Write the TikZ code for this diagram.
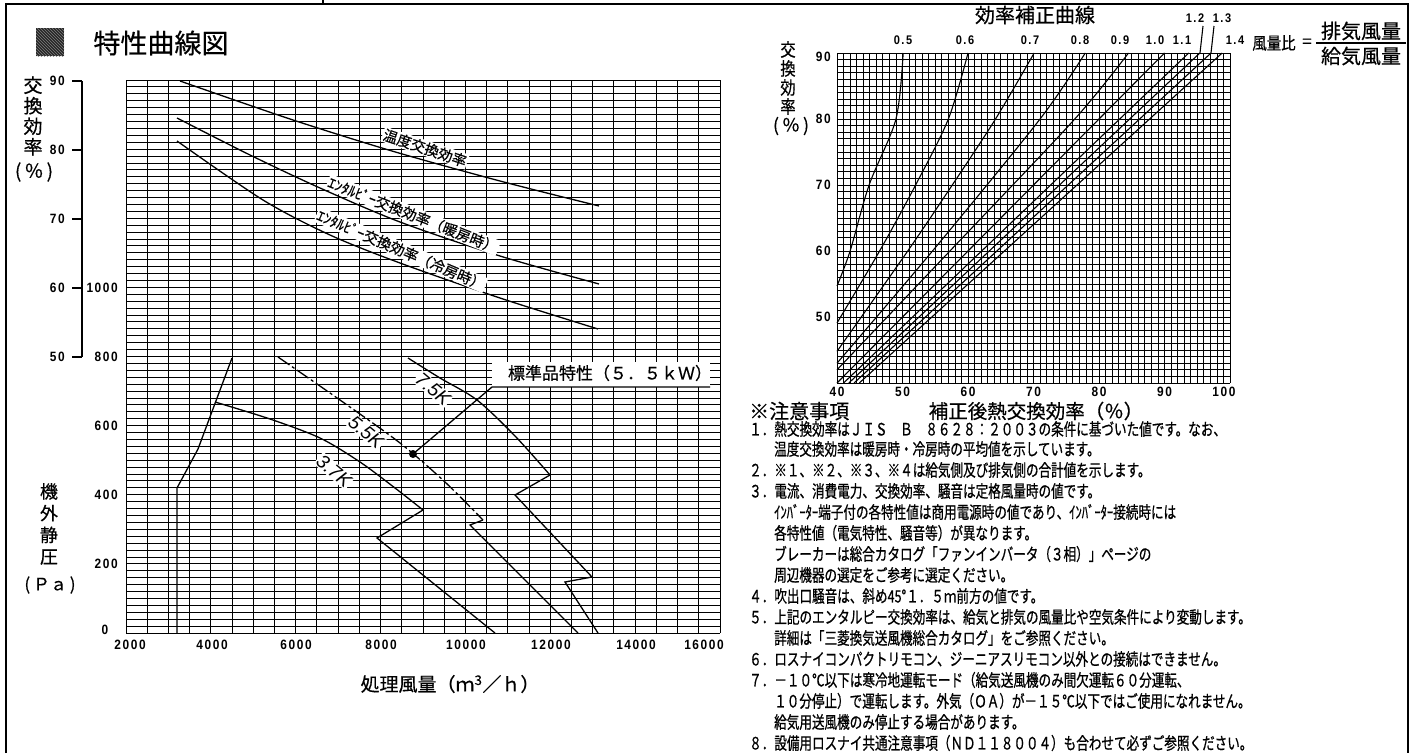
\documentclass[tikz,border=0pt]{standalone}
\usepackage{fontspec}
\setmainfont{Noto Sans CJK JP}
\newfontfamily\jp[FakeBold=0.5]{Noto Sans CJK JP}
\newfontfamily\jpc[FakeStretch=0.74,FakeBold=0.7]{Noto Sans CJK JP}
\newfontfamily\jpm[FakeStretch=0.85,FakeBold=0.5]{Noto Sans CJK JP}
\newfontfamily\numf[FakeStretch=0.88,LetterSpace=12]{Liberation Sans}
\newfontfamily\kfont{Liberation Sans}
\usetikzlibrary{patterns}
\begin{document}
\begin{tikzpicture}[x=1pt,y=-1pt,
  bord/.style={line width=2pt},
  gl/.style={line width=0.9pt},
  gr/.style={line width=0.8pt},
  axl/.style={line width=1.4pt},
  cv/.style={line width=1.3pt},
  cvr/.style={line width=1.1pt},
  dashcv/.style={line width=1.3pt, dash pattern=on 14pt off 3pt on 3pt off 3pt},
  num/.style={inner sep=0pt, font=\numf\bfseries\fontsize{13.5}{14}\selectfont},
  nums/.style={inner sep=0pt, font=\numf\bfseries\fontsize{12.5}{13}\selectfont},
  elbl/.style={fill=white, inner sep=1pt, font=\jp\fontsize{14.5}{15}\selectfont},
  klbl/.style={fill=white, inner sep=1pt, font=\kfont\itshape\fontsize{19}{19}\selectfont},
  note/.style={anchor=west, inner sep=0pt, font=\jpc\fontsize{17}{18}\selectfont},
]
\useasboundingbox (0,0) rectangle (1413,753);
\fill[white] (0,0) rectangle (1413,753);

% frame
\draw[bord] (6,753) -- (6,4) -- (1408,4) -- (1408,753);
\draw[bord] (323,0) -- (323,4);

% title
\node[fill=black!85, minimum size=28, inner sep=0, postaction={pattern=north west lines, pattern color=gray}] (icon) at (50,42) {};
\node[inner sep=0, font=\jp\fontsize{27}{28}\selectfont] (title) at (161,43) {特性曲線図};

% ---------------- left chart grid
\foreach \i in {0,...,28} \draw[gl] ({126+\i*21.2143},80) -- ({126+\i*21.2143},633);
\foreach \j in {0,...,80} \draw[gl] (126,{633-\j*6.9125}) -- (720,{633-\j*6.9125});

% efficiency axis
\draw[axl] (82,81) -- (82,357);
\foreach \yy in {81,150,219,288,357} \draw[axl] (72,\yy) -- (82,\yy);
\foreach \t/\yy in {90/81,80/150,70/219,60/288,50/357}
  \node[num, anchor=east] (e\t) at (65,\yy) {\t};
\foreach \t/\yy in {1000/288,800/357,600/426,400/495,200/564}
  \node[num, anchor=east] (p\t) at (118,\yy) {\t};
\node[num] (p0) at (105,630) {0};
\foreach \t/\xx in {2000/130,4000/212,6000/296,8000/381,10000/466,12000/551,14000/636,16000/704}
  \node[num] (x\t) at (\xx,645) {\t};

% axis titles
\node[inner sep=0, align=center, font=\jp\fontsize{19}{20.5}\selectfont] (ylab1) at (33,116) {交\\換\\効\\率};
\node[inner sep=0, font=\jp\fontsize{19}{20}\selectfont] (ylab1u) at (34,172) {(\,％\,)};
\node[inner sep=0, align=center, font=\jp\fontsize{18}{21.7}\selectfont] (ylab2) at (49,524) {機\\外\\静\\圧};
\node[inner sep=0, font=\jp\fontsize{17}{18}\selectfont] (ylab2u) at (50,585) {(\,Ｐａ\,)};
\node[inner sep=0, font=\jp\fontsize{19}{20}\selectfont] (xlab) at (450,684) {処理風量（ｍ\textsuperscript{3}／ｈ）};

% efficiency curves
\draw[cv] plot[smooth] coordinates {(180,81) (290,119) (392,151) (500,181) (599,206)};
\draw[cv] plot[smooth] coordinates {(177,118) (250,155) (320,188) (400,222) (500,256) (599,284)};
\draw[cv] plot[smooth] coordinates {(177,141) (263,200) (330,235) (400,263) (500,298) (598,329)};
\node[elbl, rotate=-18.5] (tlbl) at (425,148) {温度交換効率};
\node[elbl, rotate=-21.5] (hlbl) at (413,215) {ｴﾝﾀﾙﾋﾟｰ交換効率（暖房時）};
\node[elbl, rotate=-23] (clbl) at (401,250) {ｴﾝﾀﾙﾋﾟｰ交換効率（冷房時）};

% pressure curves
\draw[cv] (177,633) -- (177,488) -- (198,449) -- (232,358);
\draw[cv] plot[smooth] coordinates {(215,402) (270,419) (320,438) (360,462) (395,488) (423,510)};
\draw[cv] (423,510) -- (377,538) -- (495,633);
\draw[dashcv] plot[smooth] coordinates {(278,357) (340,400) (400,443) (445,482) (483,520)};
\draw[cv] (483,520) -- (470,525) -- (578,633);
\draw[cv] plot[smooth] coordinates {(408,358) (440,378) (477,400) (515,436) (550,475)};
\draw[cv] (550,475) -- (515,495) -- (592,577) -- (565,582) -- (598,633);
\node[klbl, rotate=-40] (k75) at (433,389) {7.5K};
\node[klbl, rotate=-40] (k55) at (366,432) {5.5K};
\node[klbl, rotate=-40] (k37) at (334,471) {3.7K};

% standard point
\node[fill=white, inner sep=0, minimum width=218, minimum height=25, anchor=south west] (stdbox) at (492,387) {};
\node[inner sep=0, font=\jp\fontsize{17}{18}\selectfont] (stdtxt) at (610,373) {標準品特性（５．５ｋＷ）};
\node[circle, fill=black, inner sep=0, minimum size=8] (dot) at (413,454) {};
\coordinate (lk) at (492,387);
\coordinate (ue) at (710,387);
\draw[cv] (dot.center) -- (lk) -- (ue);

% ---------------- right chart
\foreach \i in {0,...,60} \draw[gr] ({837+\i*6.55},53) -- ({837+\i*6.55},383);
\foreach \j in {0,...,50} \draw[gr] (837,{383-\j*6.6}) -- (1230,{383-\j*6.6});

\begin{scope}[shift={(837,383)}, xscale=6.55, yscale=-6.6]
  \draw[cvr] plot[smooth] coordinates {(0,14.7) (2,20) (4.9,30) (9,40) (10.1,50)};
  \draw[cvr] plot[smooth] coordinates {(0,9.1) (6.5,20) (12,30) (17,40) (20,50)};
  \draw[cvr] plot[smooth] coordinates {(0,4.8) (10.8,20) (17.6,30) (24.2,40) (30.1,50)};
  \draw[cvr] plot[smooth] coordinates {(0,3) (15,20.5) (31,40) (37.9,50)};
  \draw[cvr] plot[smooth] coordinates {(0,2) (18,20.8) (36.3,40) (44.5,50)};
  \draw[cvr] (0,0) -- (50,50);
  \draw[cvr] (1,0) -- (53.7,50);
  \draw[cvr] (1.8,0) -- (55.4,50);
  \draw[cvr] (2.6,0) -- (57.1,50);
  \draw[cvr] (3.4,0) -- (58.8,50);
\end{scope}
\coordinate (t12) at (1200,53);
\coordinate (t13) at (1211,53);
\coordinate (l12) at (1203,26);
\coordinate (l13) at (1214,26);
\draw[cvr] (t12) -- (l12);
\draw[cvr] (t13) -- (l13);

\foreach \t/\xx/\yy [count=\n] in {0.5/903/40,0.6/965/40,0.7/1030/40,0.8/1080/40,0.9/1120/40,1.0/1155/40,1.1/1182/40,1.4/1235/40,1.2/1195/18,1.3/1222/18}
  \node[nums] (rl\n) at (\xx,\yy) {\t};

\node[inner sep=0, font=\jp\fontsize{20}{21}\selectfont] (rtitle) at (1035,15) {効率補正曲線};
\node[inner sep=0, align=center, font=\jpm\fontsize{18}{19}\selectfont] (rylab) at (788,78) {交\\換\\効\\率};
\node[inner sep=0, font=\jp\fontsize{18}{19}\selectfont] (ryunit) at (791,126) {(\,％\,)};
\foreach \t/\yy in {90/57,80/119,70/185,60/251,50/317}
  \node[num, anchor=east] (ry\t) at (831,\yy) {\t};
\foreach \t/\xx in {40/837,50/902.5,60/968,70/1033.5,80/1099,90/1164.5,100/1224}
  \node[num] (rx\t) at (\xx,392) {\t};

% ratio formula
\node[inner sep=0, font=\jpm\fontsize{17}{18}\selectfont] (ratio) at (1274,43) {風量比};
\node[inner sep=0, font=\jp\fontsize{17}{18}\selectfont] (eq) at (1307,43) {=};
\node[inner sep=0, font=\jp\fontsize{20}{21}\selectfont] (numer) at (1361,31) {排気風量};
\node[inner sep=0, font=\jp\fontsize{20}{21}\selectfont] (denom) at (1361,56) {給気風量};
\coordinate (fb1) at (1316,43);
\coordinate (fb2) at (1406,43);
\draw[line width=1.2pt] (fb1) -- (fb2);

% notes
\node[inner sep=0, anchor=west, font=\jp\fontsize{20}{21}\selectfont] (nh) at (749,411) {※注意事項};
\node[inner sep=0, font=\jp\fontsize{19.5}{20}\selectfont] (rxlab) at (1036,411) {補正後熱交換効率（％）};
\node[note] (n1) at (749,429) {１．熱交換効率はＪＩＳ　Ｂ　８６２８：２００３の条件に基づいた値です。なお、};
\node[note] (n2) at (774,449) {温度交換効率は暖房時・冷房時の平均値を示しています。};
\node[note] (n3) at (749,470) {２．※１、※２、※３、※４は給気側及び排気側の合計値を示します。};
\node[note] (n4) at (749,491) {３．電流、消費電力、交換効率、騒音は定格風量時の値です。};
\node[note] (n5) at (774,512) {ｲﾝﾊﾞｰﾀｰ端子付の各特性値は商用電源時の値であり、ｲﾝﾊﾞｰﾀｰ接続時には};
\node[note] (n6) at (774,533) {各特性値（電気特性、騒音等）が異なります。};
\node[note] (n7) at (774,554) {ブレーカーは総合カタログ「ファンインバータ（３相）」ページの};
\node[note] (n8) at (774,575) {周辺機器の選定をご参考に選定ください。};
\node[note] (n9) at (749,596) {４．吹出口騒音は、斜め45°１．５ｍ前方の値です。};
\node[note] (n10) at (749,617) {５．上記のエンタルピー交換効率は、給気と排気の風量比や空気条件により変動します。};
\node[note] (n11) at (774,638) {詳細は「三菱換気送風機総合カタログ」をご参照ください。};
\node[note] (n12) at (749,659) {６．ロスナイコンパクトリモコン、ジーニアスリモコン以外との接続はできません。};
\node[note] (n13) at (749,680) {７．－１０℃以下は寒冷地運転モード（給気送風機のみ間欠運転６０分運転、};
\node[note] (n14) at (774,701) {１０分停止）で運転します。外気（ＯＡ）が－１５℃以下ではご使用になれません。};
\node[note] (n15) at (774,722) {給気用送風機のみ停止する場合があります。};
\node[note] (n16) at (749,743) {８．設備用ロスナイ共通注意事項（ＮＤ１１８００４）も合わせて必ずご参照ください。};
\end{tikzpicture}
\end{document}
